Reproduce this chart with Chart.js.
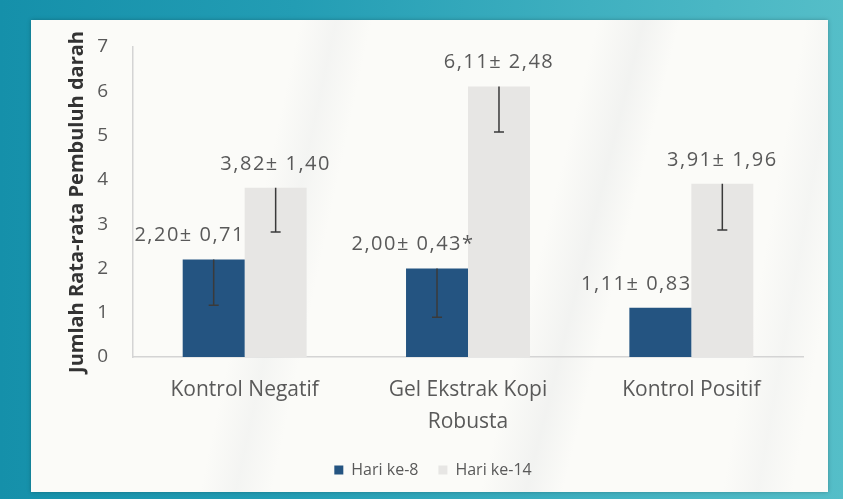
<!DOCTYPE html>
<html>
<head>
<meta charset="utf-8">
<script src="https://cdn.jsdelivr.net/npm/chart.js@4.4.1/dist/chart.umd.min.js"></script>
<style>
  html, body { margin: 0; padding: 0; }
  body {
    width: 843px; height: 499px; overflow: hidden; position: relative;
    background: linear-gradient(90deg, #1590aa 0%, #239db4 35%, #3fb0c0 70%, #55bec8 100%);
  }
  #panel {
    position: absolute; left: 31px; top: 20px; width: 797px; height: 472px;
    background:
      linear-gradient(102deg, rgba(255,255,255,0) 30%, rgba(230,232,232,0.35) 34%, rgba(255,255,255,0) 38%),
      linear-gradient(104deg, rgba(255,255,255,0) 62%, rgba(228,230,230,0.4) 67%, rgba(255,255,255,0) 71%),
      linear-gradient(100deg, rgba(255,255,255,0) 88%, rgba(232,234,234,0.35) 92%, rgba(255,255,255,0) 96%),
      #fbfbf8;
    box-shadow: 0 0 4px rgba(0,0,0,0.25);
  }
  #chart { position: absolute; left: 0; top: 0; }
</style>
</head>
<body>
<div id="panel"><canvas id="chart" width="797" height="479"></canvas></div>
<script>
  const categories = ['Kontrol Negatif', ['Gel Ekstrak Kopi', 'Robusta'], 'Kontrol Positif'];
  const hari8 = [2.20, 2.00, 1.11];
  const hari14 = [3.82, 6.11, 3.91];
  // lengths of the (downward) error bars as drawn in the picture
  const err8 = [1.03, 1.10, 0];
  const err14 = [1.00, 1.03, 1.04];
  const label8 = ['2,20± 0,71', '2,00± 0,43*', '1,11± 0,83'];
  const label14 = ['3,82± 1,40', '6,11± 2,48', '3,91± 1,96'];

  const textGrey = '#595959';
  const font = 'Open Sans';

  const barExtras = {
    id: 'barExtras',
    afterDatasetsDraw(chart) {
      const ctx = chart.ctx;
      const y = chart.scales.y;
      const sets = [
        { err: err8, labels: label8, shift: -24 },
        { err: err14, labels: label14, shift: 0 },
      ];
      ctx.save();
      sets.forEach((s, di) => {
        const meta = chart.getDatasetMeta(di);
        const values = chart.data.datasets[di].data;
        meta.data.forEach((bar, i) => {
          const top = y.getPixelForValue(values[i]);
          if (s.err[i] > 0) {
            const bot = y.getPixelForValue(values[i] - s.err[i]);
            ctx.strokeStyle = '#3a3a3a';
            ctx.lineWidth = 1.5;
            ctx.beginPath();
            ctx.moveTo(bar.x, top);
            ctx.lineTo(bar.x, bot);
            ctx.moveTo(bar.x - 5, bot);
            ctx.lineTo(bar.x + 5, bot);
            ctx.stroke();
          }
          ctx.fillStyle = textGrey;
          ctx.font = '20px "' + font + '"';
          ctx.letterSpacing = '1.5px';
          ctx.textAlign = 'center';
          ctx.textBaseline = 'middle';
          ctx.fillText(s.labels[i], bar.x + s.shift, top - 24);
        });
      });
      ctx.restore();
    }
  };

  new Chart(document.getElementById('chart'), {
    type: 'bar',
    data: {
      labels: categories,
      datasets: [
        { label: 'Hari ke-8', data: hari8, backgroundColor: '#245481', borderWidth: 0 },
        { label: 'Hari ke-14', data: hari14, backgroundColor: '#e7e6e4', borderWidth: 0 },
      ],
    },
    options: {
      responsive: false,
      animation: false,
      layout: { padding: { left: 32, right: 25, top: 27, bottom: 11 } },
      datasets: { bar: { barPercentage: 1, categoryPercentage: 0.555 } },
      plugins: {
        legend: {
          position: 'bottom',
          labels: {
            color: textGrey, boxWidth: 9, boxHeight: 9, padding: 20,
            font: { family: font, size: 16 },
          },
        },
        tooltip: { enabled: false },
      },
      scales: {
        x: {
          afterFit(scale) { scale.height = 85; },
          grid: { display: false, drawTicks: false },
          border: { color: '#d4d4d4', width: 1.5 },
          ticks: { color: textGrey, padding: 17, font: { family: font, size: 21, lineHeight: 1.52 }, maxRotation: 0 },
        },
        y: {
          min: 0, max: 7,
          afterFit(scale) { scale.width = 70; scale.paddingTop = 0; scale.paddingBottom = 0; },
          grid: { display: false, drawTicks: false },
          border: { color: '#d4d4d4', width: 1.5 },
          ticks: { stepSize: 1, color: textGrey, padding: 25, font: { family: font, size: 19 } },
          title: {
            display: true, text: 'Jumlah Rata-rata Pembuluh darah', color: '#333',
            padding: { top: 2, bottom: 0 }, font: { family: font, size: 20, weight: 'bold' },
          },
        },
      },
    },
    plugins: [barExtras],
  });
</script>
</body>
</html>
